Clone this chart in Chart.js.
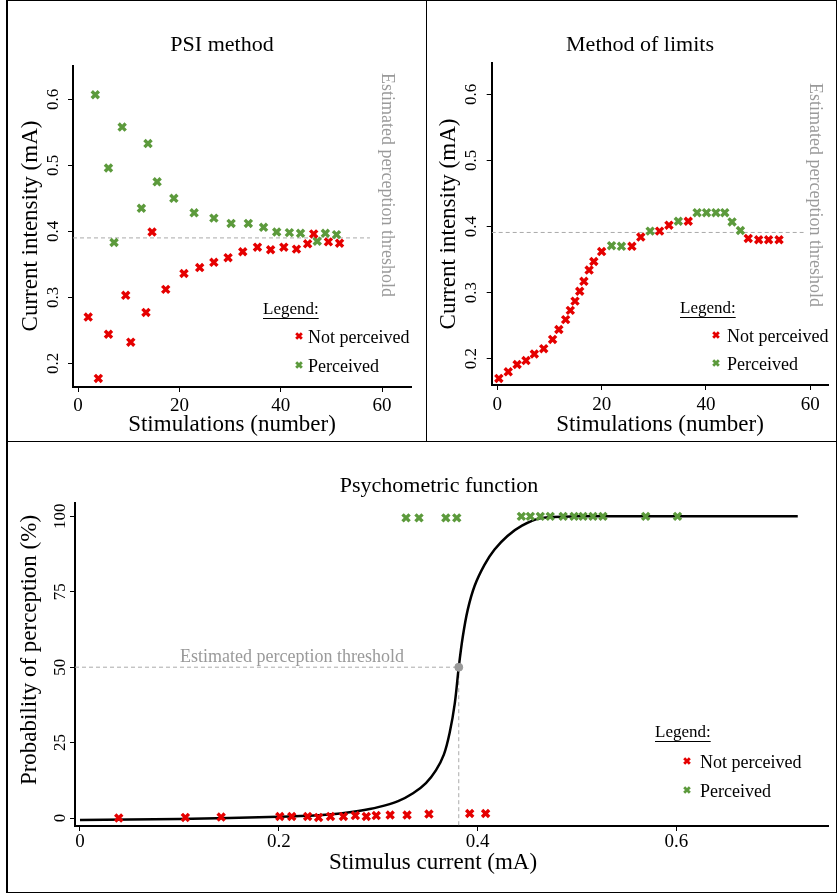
<!DOCTYPE html>
<html>
<head>
<meta charset="utf-8">
<script src="https://cdn.jsdelivr.net/npm/chart.js@4.4.1/dist/chart.umd.min.js"></script>
<style>
  html, body { margin: 0; padding: 0; background: #fff; }
  #wrap { position: relative; width: 837px; height: 893px; overflow: hidden; background: #fff; }
  canvas { position: absolute; }
  .ln { position: absolute; background: #000; z-index: 2; }
</style>
</head>
<body>
<div id="wrap">
  <canvas id="c1" width="426" height="441" style="left:0;top:0"></canvas>
  <canvas id="c2" width="410" height="441" style="left:427px;top:0"></canvas>
  <canvas id="c3" width="837" height="451" style="left:0;top:442px"></canvas>
  <div class="ln" style="left:6px;top:0;width:2px;height:893px"></div>
  <div class="ln" style="left:6px;top:0;width:831px;height:1px"></div>
  <div class="ln" style="left:836px;top:0;width:1px;height:893px"></div>
  <div class="ln" style="left:6px;top:892px;width:831px;height:1px"></div>
  <div class="ln" style="left:6px;top:441px;width:831px;height:1px"></div>
  <div class="ln" style="left:426px;top:0;width:1px;height:441px"></div>
</div>
<script>
// ==========================
// DATA
// ==========================
// PSI method: stimulation number -> current (mA)
const psiNotX = [2, 4, 6, 9.4, 10.4, 13.4, 14.6, 17.3, 20.9, 24, 26.8, 29.6, 32.5, 35.4, 38, 40.6, 43.1, 45.3, 46.5, 49.4, 51.6];
const psiNotY = [0.270, 0.177, 0.244, 0.303, 0.232, 0.277, 0.399, 0.312, 0.336, 0.345, 0.353, 0.360, 0.369, 0.376, 0.372, 0.376, 0.373, 0.381, 0.396, 0.384, 0.382];
const psiPerX = [3.4, 6, 7.1, 8.7, 12.5, 13.8, 15.6, 18.9, 22.9, 26.8, 30.2, 33.6, 36.6, 39.2, 41.7, 43.9, 47.2, 48.8, 51];
const psiPerY = [0.607, 0.496, 0.383, 0.558, 0.435, 0.533, 0.475, 0.450, 0.428, 0.420, 0.412, 0.412, 0.406, 0.399, 0.398, 0.397, 0.385, 0.397, 0.395];
const psiThreshold = 0.39;
const psiThresholdSpan = [-1, 57.6];

// Method of limits
const molNotX = [0.3, 2.1, 3.8, 5.5, 7.1, 8.9, 10.6, 11.8, 13.1, 14, 14.9, 15.8, 16.6, 17.6, 18.5, 20, 25.8, 27.5, 31.1, 32.9, 36.6, 48.1, 50.1, 52, 54];
const molNotY = [0.170, 0.180, 0.191, 0.197, 0.207, 0.215, 0.229, 0.244, 0.259, 0.273, 0.287, 0.302, 0.317, 0.334, 0.347, 0.362, 0.370, 0.384, 0.393, 0.402, 0.408, 0.382, 0.380, 0.380, 0.380];
const molPerX = [21.9, 23.8, 29.3, 34.7, 38.3, 40.1, 41.9, 43.6, 45, 46.6];
const molPerY = [0.371, 0.370, 0.393, 0.408, 0.421, 0.421, 0.421, 0.421, 0.407, 0.394];
const molThreshold = 0.391;
const molThresholdSpan = [-1.07, 58.7];

// Psychometric function: stimulus current (mA) -> probability (%)
const psyNotX = [0.039, 0.106, 0.142, 0.201, 0.213, 0.229, 0.240, 0.252, 0.265, 0.277, 0.288, 0.298, 0.312, 0.329, 0.351, 0.392, 0.408];
const psyNotY = [0, 0.2, 0.3, 0.5, 0.5, 0.5, 0.2, 0.5, 0.5, 0.8, 0.5, 0.8, 1, 1, 1.3, 1.5, 1.5];
const psyPerX = [0.328, 0.341, 0.368, 0.379, 0.444, 0.453, 0.463, 0.473, 0.486, 0.497, 0.506, 0.516, 0.526, 0.569, 0.601];
const psyPerY = [99.5, 99.5, 99.5, 99.5, 100, 100, 100, 100, 100, 100, 100, 100, 100, 100, 100];
const psyCurveX = [0, 0.1, 0.2, 0.24, 0.262, 0.28, 0.3, 0.32, 0.335, 0.348, 0.358, 0.366, 0.372, 0.377, 0.381, 0.385, 0.39, 0.397, 0.407, 0.417, 0.43, 0.445, 0.463, 0.5, 0.722];
const psyCurveY = [-0.7, -0.3, 0.4, 0.9, 1.5, 2.3, 3.6, 5.6, 8.2, 11.6, 15.8, 21, 28.5, 38, 50, 60, 69, 77, 84, 89, 93.5, 97, 99.4, 100, 100];
const psyThresholdX = 0.381;
const psyThresholdY = 50;

// tick labels
const stimTicks = [0, 20, 40, 60];
const currentTicks = [0.2, 0.3, 0.4, 0.5, 0.6];
const probTicks = [0, 25, 50, 75, 100];
const psyCurrentTicks = [0, 0.2, 0.4, 0.6];

// ==========================
// STYLE
// ==========================
const SERIF = "'Liberation Serif', 'Times New Roman', serif";
const RED = '#e50000';
const GREEN = '#5c9a3c';
const GREY = '#9a9a9a';

const pts = (xs, ys) => xs.map((x, i) => ({ x, y: ys[i] }));

function markerSet(label, xs, ys, color) {
  return {
    label, data: pts(xs, ys),
    pointStyle: 'crossRot', pointRadius: 5, pointBorderWidth: 3.4,
    borderColor: color, pointBorderColor: color, backgroundColor: color
  };
}

function dashSet(data) {
  return {
    type: 'line', label: 'threshold', data,
    borderColor: '#aaa', borderWidth: 1, borderDash: [4, 3],
    pointRadius: 0, fill: false
  };
}

function xAxis(min, max, tickVals, h, pad, fmt) {
  return {
    type: 'linear', min, max,
    afterBuildTicks: s => { s.ticks = tickVals.map(v => ({ value: v })); },
    afterFit: s => { s.height = h; },
    ticks: { color: '#000', font: { family: SERIF, size: 19 }, padding: pad, maxRotation: 0, autoSkip: false, callback: fmt },
    grid: { display: true, drawOnChartArea: false, drawTicks: true, tickLength: 5, color: '#000' },
    border: { display: true, color: '#000', width: 2 }
  };
}

function yAxis(min, max, tickVals, w, fmt) {
  return {
    type: 'linear', min, max,
    afterBuildTicks: s => { s.ticks = tickVals.map(v => ({ value: v })); },
    afterFit: s => { s.width = w; },
    ticks: { display: false, callback: fmt },
    grid: { display: true, drawOnChartArea: false, drawTicks: true, tickLength: 5, color: '#000' },
    border: { display: true, color: '#000', width: 2 }
  };
}

// ==========================
// TEXT PLUGIN (titles, rotated y labels, legend)
// ==========================
const panelText = {
  id: 'panelText',
  afterDraw(chart, args, o) {
    const ctx = chart.ctx;
    const ys = chart.scales.y;
    const area = chart.chartArea;
    ctx.save();
    ctx.fillStyle = '#000';
    ctx.textBaseline = 'middle';

    // rotated y tick labels
    ctx.font = '17px ' + SERIF;
    ctx.textAlign = 'center';
    ys.ticks.forEach(t => {
      ctx.save();
      ctx.translate(area.left - o.tickGap, ys.getPixelForValue(t.value));
      ctx.rotate(-Math.PI / 2);
      ctx.fillText(t.label, 0, 0);
      ctx.restore();
    });

    // axis titles
    ctx.font = '23px ' + SERIF;
    ctx.save();
    ctx.translate(o.yTitle.x, o.yTitle.y);
    ctx.rotate(-Math.PI / 2);
    ctx.fillText(o.yTitle.text, 0, 0);
    ctx.restore();
    ctx.fillText(o.xTitle.text, o.xTitle.x, o.xTitle.y);

    // threshold label
    ctx.fillStyle = GREY;
    ctx.font = '18px ' + SERIF;
    const th = o.thText;
    if (th.rot) {
      ctx.save();
      ctx.translate(th.x, th.y);
      ctx.rotate(Math.PI / 2);
      ctx.textAlign = 'left';
      ctx.fillText(th.text, 0, 0);
      ctx.restore();
    } else {
      ctx.textAlign = 'center';
      ctx.fillText(th.text, th.x, th.y);
    }

    // legend
    const lg = o.legend;
    ctx.fillStyle = '#000';
    ctx.textAlign = 'left';
    ctx.font = '17px ' + SERIF;
    ctx.fillText('Legend:', lg.x, lg.y);
    const w = ctx.measureText('Legend:').width;
    ctx.fillRect(lg.x, lg.y + 8, w, 1);
    ctx.font = '18px ' + SERIF;
    ctx.fillText('Not perceived', lg.tx, lg.y1);
    ctx.fillText('Perceived', lg.tx, lg.y2);
    [[RED, lg.y1], [GREEN, lg.y2]].forEach(([c, yy]) => {
      ctx.strokeStyle = c;
      ctx.lineWidth = 2.8;
      Chart.helpers.drawPoint(ctx, { pointStyle: 'crossRot', radius: 4, rotation: 0, borderWidth: 2.8 }, lg.mx, yy - 2);
    });
    ctx.restore();
  }
};
Chart.register(panelText);

function titleOpts(text, pt, pb) {
  return { display: true, text, color: '#000', font: { family: SERIF, size: 22, weight: 'normal' }, padding: { top: pt, bottom: pb } };
}

const base = { responsive: false, animation: false, events: [] };

// ==========================
// PSI METHOD
// ==========================
new Chart(document.getElementById('c1'), {
  type: 'scatter',
  data: { datasets: [
    markerSet('Not perceived', psiNotX, psiNotY, RED),
    markerSet('Perceived', psiPerX, psiPerY, GREEN),
    dashSet(psiThresholdSpan.map(x => ({ x, y: psiThreshold })))
  ] },
  options: {
    ...base,
    layout: { padding: { left: 33, right: 15, top: 0, bottom: 0 } },
    plugins: {
      legend: { display: false }, tooltip: { enabled: false },
      title: titleOpts('PSI method', 32, 8),
      panelText: {
        tickGap: 19,
        yTitle: { text: 'Current intensity (mA)', x: 31, y: 226 },
        xTitle: { text: 'Stimulations (number)', x: 232, y: 425 },
        thText: { text: 'Estimated perception threshold', x: 387, y: 73, rot: true },
        legend: { x: 263, y: 310, mx: 299, tx: 308, y1: 338, y2: 367 }
      }
    },
    scales: {
      x: xAxis(-1, 65.7, stimTicks, 54, 3, v => String(v)),
      y: yAxis(0.164, 0.65, currentTicks, 40, v => v.toFixed(1))
    }
  }
});

// ==========================
// METHOD OF LIMITS
// ==========================
new Chart(document.getElementById('c2'), {
  type: 'scatter',
  data: { datasets: [
    markerSet('Not perceived', molNotX, molNotY, RED),
    markerSet('Perceived', molPerX, molPerY, GREEN),
    dashSet(molThresholdSpan.map(x => ({ x, y: molThreshold })))
  ] },
  options: {
    ...base,
    layout: { padding: { left: 23, right: 7, top: 0, bottom: 0 } },
    plugins: {
      legend: { display: false }, tooltip: { enabled: false },
      title: titleOpts('Method of limits', 32, 5),
      panelText: {
        tickGap: 20,
        yTitle: { text: 'Current intensity (mA)', x: 22, y: 224 },
        xTitle: { text: 'Stimulations (number)', x: 233, y: 425 },
        thText: { text: 'Estimated perception threshold', x: 388, y: 83, rot: true },
        legend: { x: 253, y: 309, mx: 289, tx: 300, y1: 337, y2: 365 }
      }
    },
    scales: {
      x: xAxis(-1.07, 63.5, stimTicks, 56, 4, v => String(v)),
      y: yAxis(0.16, 0.647, currentTicks, 41.7, v => v.toFixed(1))
    }
  }
});

// ==========================
// PSYCHOMETRIC FUNCTION
// ==========================
new Chart(document.getElementById('c3'), {
  type: 'scatter',
  data: { datasets: [
    markerSet('Not perceived', psyNotX, psyNotY, RED),
    markerSet('Perceived', psyPerX, psyPerY, GREEN),
    {
      label: 'threshold point', data: [{ x: psyThresholdX, y: psyThresholdY }],
      pointStyle: 'circle', pointRadius: 4, pointBackgroundColor: GREY, pointBorderColor: GREY
    },
    {
      type: 'line', label: 'fit', data: pts(psyCurveX, psyCurveY),
      borderColor: '#000', borderWidth: 2.5, pointRadius: 0, tension: 0.35, fill: false
    },
    dashSet([{ x: -0.005, y: psyThresholdY }, { x: psyThresholdX, y: psyThresholdY }]),
    dashSet([{ x: psyThresholdX, y: psyThresholdY }, { x: psyThresholdX, y: -2.65 }])
  ] },
  options: {
    ...base,
    layout: { padding: { left: 45, right: 4, top: 0, bottom: 0 } },
    plugins: {
      legend: { display: false }, tooltip: { enabled: false },
      title: titleOpts('Psychometric function', 31, 4),
      panelText: {
        tickGap: 14,
        yTitle: { text: 'Probability of perception (%)', x: 30, y: 208 },
        xTitle: { text: 'Stimulus current (mA)', x: 433, y: 421 },
        thText: { text: 'Estimated perception threshold', x: 292, y: 215, rot: false },
        legend: { x: 655, y: 291, mx: 687, tx: 700, y1: 321, y2: 350 }
      }
    },
    scales: {
      x: xAxis(-0.005, 0.753, psyCurrentTicks, 67, 0, v => (v === 0 ? '0' : v.toFixed(1))),
      y: yAxis(-2.65, 104.3, probTicks, 30, v => String(v))
    }
  }
});
</script>
</body>
</html>
